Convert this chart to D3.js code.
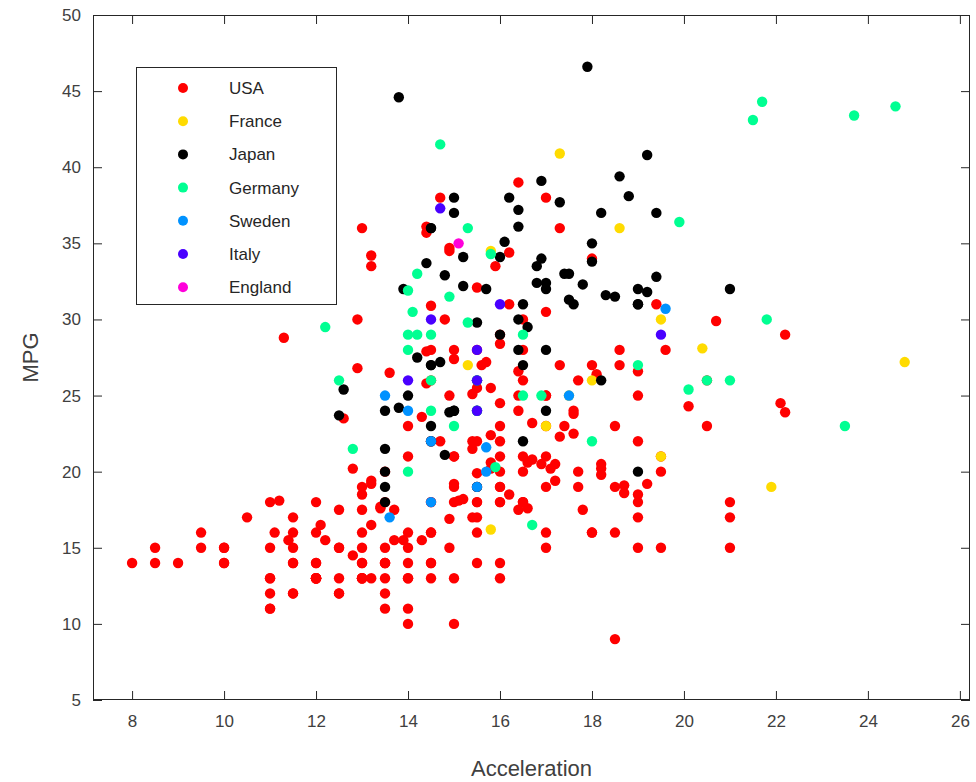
<!DOCTYPE html>
<html><head><meta charset="utf-8">
<script src="https://cdn.jsdelivr.net/npm/d3@7"></script>
<style>body{margin:0;background:#fff}svg{display:block}</style>
</head><body>
<svg id="chart" width="976" height="782"></svg>
<script>
// Data: [Acceleration, MPG] per origin
const categories = ["USA","France","Japan","Germany","Sweden","Italy","England"];
const colors = ["#ff0000","#ffdb00","#000000","#00ff92","#0092ff","#4900ff","#ff00db"];
const usa = [
[12,18],[11.5,15],[11,18],[12,16],[10.5,17],[10,15],[9,14],[8.5,14],[10,14],[8.5,15],[10,15],[8,14],[9.5,15],[10,14],[15.5,22],[15.5,18],[16,21],[15,21],[14,10],[15,10],[13.5,11],[18.5,9],
[15.5,28],[19,25],[13,19],[15.5,16],[15.5,17],[15.5,19],[15.5,18],[12,14],[11.5,14],[13.5,14],[13,14],[11.5,12],[12,13],[12,13],[13.5,18],[19,22],[15,19],[14.5,18],[14,23],[20.5,26],
[17,25],[19.5,20],[16.5,21],[12,13],[12,14],[13.5,15],[13,14],[11.5,17],[11,11],[13.5,13],[13.5,12],[12.5,13],[12.5,15],[14,13],[16,13],[14,14],[16,22],[15,28],
[13,13],[11.5,14],[13,13],[14.5,14],[12.5,15],[11.5,12],[12,13],[13,13],[14.5,14],[11,13],[11,12],[11,13],[16.5,18],[18,16],[16,18],[16.5,18],[16,23],[14,11],[12.5,12],[13,13],[12.5,12],[15,18],[19.5,21],[18.5,19],[14,21],[13,15],[9.5,16],[11,15],[11,11],
[16.5,20],[17,21],[16,19],[17,15],[16.5,26],[17,25],[17,16],[18,16],[16.5,18],[14,16],[14.5,13],[13.5,14],[16,14],[15.5,14],[14.5,28],
[16,19],[16,18],[21,15],[19.5,15],[11.5,16],[14,15],[14.5,16],[13.5,14],[21,17],[18.5,16],[19,15],[19,18],[15,21],[13.5,20],[12,13],[17,23],[16,20],[18.5,23],[14.5,18],[17,19],
[14.9,25],[17.7,26],[13,17.5],[13,16],[13.9,15.5],[12.8,14.5],[15.4,22],[14.5,22],[17.6,24],[17.6,22.5],[22.2,29],[22.1,24.5],[17.7,20],[21,18],[16.2,18.5],[17.8,17.5],[13.6,26.5],[13.2,13],[12.1,16.5],[12,13],[15,13],[14,13],
[14.8,30],[15.5,25.5],[12.5,17.5],[19,17],[13.7,15.5],[14.9,15],[16.4,17.5],[16.9,20.5],[17.7,19],[19,18.5],[11.1,16],[11.4,15.5],[12.2,15.5],[14.5,16],[16,24.5],[15.8,25.5],[17,30.5],[15.9,33.5],
[14.4,36.1],[15.5,19.9],[13.2,19.4],[12.8,20.2],[19.2,19.2],[18.2,20.5],[15.8,20.2],[15.4,25.1],[17.2,20.5],[17.2,19.4],[15.8,20.6],[16.7,20.8],[18.7,18.6],[15.1,18.1],[13.2,19.2],[13.4,17.7],[11.2,18.1],[13.7,17.5],[16.5,30],[14.5,30.9],[16.7,23.2],[17.6,23.8],
[15.4,21.5],[18.2,19.8],[17.3,22.3],[18.2,20.2],[16.6,20.6],[15.4,17],[13.4,17.6],[13.2,16.5],[15.2,18.2],[14.9,16.9],[14.3,15.5],[15,19.2],[13,18.5],[14.4,35.7],[15,27.4],[17.4,23],[22.2,23.9],[13.2,34.2],[14.9,34.5],[16,28.4],[11.3,28.8],[12.9,26.8],[13.2,33.5],
[15.5,32.1],[16.5,28],[18.1,26.4],[20.1,24.3],[18.7,19.1],[14.4,27.9],[14.3,23.6],
[15.7,27.2],[16.4,26.6],[14.4,25.8],[12.6,23.5],[12.9,30],[16.4,39],[14.9,34.7],[16.2,34.4],[20.7,29.9],[15.8,22.4],[19,26.6],[17.1,20.2],[16.6,17.6],
[19.6,28],[18.6,27],[18,34],[16.2,31],[16,29],[18,27],[16.4,24],[20.5,23],[14.7,38],[17.3,36],[16.4,25],[17,38],[14.5,26],[14.7,22],[13,36],[17.3,27],[15.6,27],[11.6,32],[18.6,28],[19.4,31]
];
const france = [[17.5,25],[19.5,30],[19.5,21],[18,26],[17,23],[15.3,27],[21.9,19],[18.6,36],[15.8,16.2],[24.8,27.2],[17.3,40.9],[15.8,34.5],[20.4,28.1]];
const japan = [
[15,24],[14.5,27],[14.5,27],[14,25],[19,31],[18,35],[15.5,24],[13.5,19],[17,28],[14.5,23],[16.5,27],[19,20],[16.5,22],[13.5,18],[13.5,20],[19,31],[21,32],[16.5,31],[19,32],[15,24],[15.5,26],[16,29],[13.5,24],[17,24],[17.5,33],[17.4,33],[17,32],[16.4,28],[15.5,19],[18.5,31.5],[16.8,33.5],[18.2,26],[16.4,30],[14.5,22],[13.5,21.5],[19.4,32.8],[18.6,39.4],[16.4,36.1],[14.2,27.5],[14.7,27.2],[14.8,21.1],[14.9,23.9],[16.6,29.5],[15.2,34.1],[19.2,31.8],[18.8,38.1],[16.4,37.2],[15.5,29.8],[17.5,31.3],[15,37],[15.2,32.2],[17.9,46.6],[19.2,40.8],[13.8,44.6],[18,33.8],[11.4,32.7],[12.5,23.7],[17,32.4],[16.9,39.1],[16.1,35.1],[17.8,32.3],[19.4,37],[17.3,37.7],[16,34.1],[14.4,33.7],[16.8,32.4],[14.8,32.9],[18.3,31.6],[12.6,25.4],[13.8,24.2],[18.2,37],[17.6,31],[14.5,36],[14.5,36],[16.9,34],[15,38],[15.7,32],[16.2,38],[13.9,32]
];
const germany = [[20.5,26],[14.5,24],[12.5,26],[14,28],[19,27],[23.5,23],[18,22],[21,26],[15.5,24],[14,20],[16.5,29],[15.5,26],[14.5,26],[16.5,25],[14,29],[15,23],[16.9,25],[14.2,29],[12.2,29.5],[16.7,16.5],[14.5,29],[14.1,30.5],[12.8,21.5],[21.5,43.1],[15.9,20.3],[14.9,31.5],[14,31.9],[20.1,25.4],[14.7,41.5],[15.8,34.3],[21.7,44.3],[23.7,43.4],[19.9,36.4],[21.8,30],[15.3,29.8],[14.2,33],[15.3,36],[24.6,44]];
const sweden = [[17.5,25],[14.5,18],[15.5,19],[14,24],[14.5,22],[13.5,25],[15.7,20],[13.6,17],[15.7,21.6],[19.6,30.7]];
const italy = [[14.5,30],[15.5,26],[19.5,29],[15.5,24],[14,26],[16,31],[15.5,28],[14.7,37.3]];
const england = [[15.1,35]];
const xTicks = [8,10,12,14,16,18,20,22,24,26];
const yTicks = [5,10,15,20,25,30,35,40,45,50];

const groups = [usa, france, japan, germany, sweden, italy, england];
const svg = d3.select("#chart");
const L=93, R=970, T=15, B=700;
const x = d3.scaleLinear().domain([7.15,26.22]).range([L,R]);
const y = d3.scaleLinear().domain([5,50]).range([B,T]);
const axisColor = "#262626";
const font = "'Liberation Sans', Arial, Helvetica, sans-serif";

svg.append("rect").attr("x",L).attr("y",T).attr("width",R-L).attr("height",B-T).attr("fill","#fff");

function styleAxis(g, labels){
  g.select(".domain").remove();
  g.selectAll(".tick line").attr("stroke",axisColor).attr("stroke-width",1);
  g.selectAll(".tick text").attr("fill",labels?"#404040":"none").style("font-family",font).style("font-size","17px");
}
const tl = 9;
svg.append("g").attr("transform",`translate(0,${B})`).call(d3.axisBottom(x).tickValues(xTicks).tickSizeInner(-tl).tickSizeOuter(0).tickPadding(15)).call(g=>styleAxis(g,true));
svg.append("g").attr("transform",`translate(0,${T})`).call(d3.axisTop(x).tickValues(xTicks).tickSizeInner(-tl).tickSizeOuter(0).tickFormat("")).call(g=>styleAxis(g,false));
svg.append("g").attr("transform",`translate(${L},0)`).call(d3.axisLeft(y).tickValues(yTicks).tickSizeInner(-tl).tickSizeOuter(0).tickPadding(12)).call(g=>styleAxis(g,true));
svg.append("g").attr("transform",`translate(${R},0)`).call(d3.axisRight(y).tickValues(yTicks).tickSizeInner(-tl).tickSizeOuter(0).tickFormat("")).call(g=>styleAxis(g,false));
svg.append("rect").attr("x",L+0.5).attr("y",T+0.5).attr("width",R-L-1).attr("height",B-T-1).attr("fill","none").attr("stroke",axisColor).attr("stroke-width",1);

// points
groups.forEach((pts,i)=>{
  svg.append("g").selectAll("circle").data(pts).join("circle")
    .attr("cx",d=>x(d[0])).attr("cy",d=>y(d[1])).attr("r",5.2).attr("fill",colors[i]);
});

// axis titles
svg.append("text").attr("x",(L+R)/2).attr("y",776).attr("text-anchor","middle")
  .style("font-family",font).style("font-size","22px").attr("fill","#404040").text("Acceleration");
svg.append("text").attr("transform",`translate(38,${(T+B)/2}) rotate(-90)`).attr("text-anchor","middle")
  .style("font-family",font).style("font-size","22px").attr("fill","#404040").text("MPG");

// legend
const lg = svg.append("g");
lg.append("rect").attr("x",136.5).attr("y",67.5).attr("width",200).attr("height",237).attr("fill","#fff").attr("stroke",axisColor).attr("stroke-width",1);
categories.forEach((c,i)=>{
  const cy = 88 + i*33.2;
  lg.append("circle").attr("cx",183).attr("cy",cy).attr("r",5).attr("fill",colors[i]);
  lg.append("text").attr("x",229).attr("y",cy+6).style("font-family",font).style("font-size","17px").attr("fill","#262626").text(c);
});
</script>
</body></html>
